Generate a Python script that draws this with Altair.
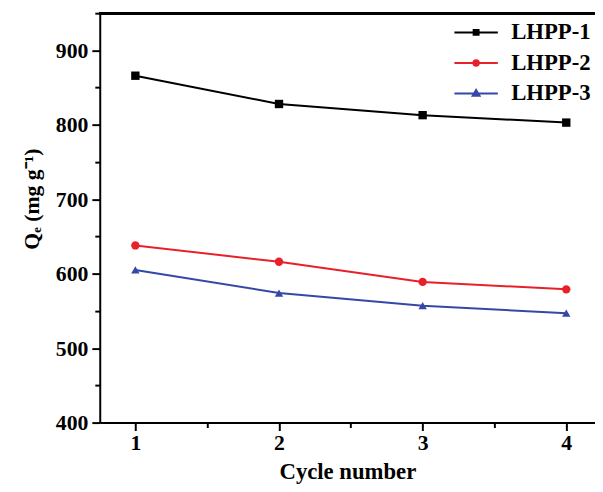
import altair as alt
import pandas as pd

cycles = [1, 2, 3, 4]
lhpp1 = [866, 828, 813, 803]
lhpp2 = [638, 616, 589, 579]
lhpp3 = [605, 574, 557, 547]
series_names = ["LHPP-1", "LHPP-2", "LHPP-3"]
colors = ["#000000", "#e8202a", "#3548a8"]

rows = []
for name, vals in zip(series_names, [lhpp1, lhpp2, lhpp3]):
    for c, v in zip(cycles, vals):
        rows.append({"cycle": c, "Qe": v, "series": name})
df = pd.DataFrame(rows)

FONT = "Liberation Serif"
W, H = 502, 415

x = alt.X("cycle:Q", scale=alt.Scale(domain=[0.752, 4.2], nice=False, zero=False),
          axis=alt.Axis(values=[1, 1.5, 2, 2.5, 3, 3.5, 4],
                        labelExpr="datum.value % 1 === 0 ? format(datum.value, 'd') : ''",
                        tickSize=alt.ExprRef(expr="datum.value % 1 === 0 ? 8 : 5"),
                        labelPadding=2,
                        title="Cycle number", titleFontSize=23,
                        titleY=57, titleBaseline="alphabetic", grid=False))
y = alt.Y("Qe:Q", scale=alt.Scale(domain=[400, 950], nice=False, zero=False),
          axis=alt.Axis(values=list(range(400, 951, 50)),
                        labelExpr="datum.value % 100 === 0 ? format(datum.value, 'd') : ''",
                        tickSize=alt.ExprRef(expr="datum.value % 100 === 0 ? 8 : 5"),
                        title="Qₑ (mg g⁻¹)", titleY=188, titlePadding=12, grid=False))

color_scale = alt.Scale(domain=series_names, range=colors)

lines = alt.Chart(df).mark_line(strokeWidth=2).encode(
    x=x, y=y, stroke=alt.Stroke("series:N", scale=color_scale, legend=None)
)
points = alt.Chart(df).mark_point(filled=True, opacity=1, size=72).encode(
    x=x, y=y,
    fill=alt.Fill("series:N", scale=color_scale, legend=None),
    shape=alt.Shape("series:N", scale=alt.Scale(domain=series_names, range=["square", "circle", "triangle-up"]), legend=None),
)

legend_paths = [
    "M-4.4,0H4.4M-0.5,-0.5H0.5V0.5H-0.5Z",
    "M-4.4,0H4.4M0.55,0A0.55,0.55 0 1 1 -0.55,0A0.55,0.55 0 1 1 0.55,0Z",
    "M-4.4,0H4.4M0,-0.75L0.7,0.45H-0.7Z",
]
leg = alt.Legend(orient="none", legendX=370, legendY=8,
                 symbolSize=100, symbolStrokeWidth=2, symbolOpacity=1,
                 labelOffset=24, rowPadding=7,
                 labelFont=FONT, labelFontSize=23, labelFontWeight="bold",
                 labelColor="black", title=None)
legend_layer = alt.Chart(df).mark_point(filled=True, opacity=0).encode(
    x=x, y=y,
    fill=alt.Fill("series:N", scale=color_scale, legend=leg),
    stroke=alt.Stroke("series:N", scale=color_scale, legend=leg),
    shape=alt.Shape("series:N", scale=alt.Scale(domain=series_names, range=legend_paths), legend=leg),
)

top_rule = alt.Chart(df).mark_rule(color="black", strokeWidth=2).encode(
    x=alt.value(0), x2=alt.value(W), y=alt.value(0)
)

chart = alt.layer(lines, points, legend_layer, top_rule).resolve_scale(
    shape="independent", fill="independent", stroke="independent"
).properties(
    width=W, height=H,
    autosize=alt.AutoSizeParams(type="none"),
    padding={"left": 93, "top": 2, "right": 0, "bottom": 59},
).configure_view(stroke=None).configure_axis(
    domainColor="black", domainWidth=2, tickColor="black", tickWidth=2,
    labelFont=FONT, labelFontSize=22, labelFontWeight="bold", labelColor="black",
    labelPadding=4,
    titleFont=FONT, titleFontSize=22, titleFontWeight="bold", titleColor="black",
)

chart.save("out.html", embed_options={"renderer": "svg", "actions": False})
